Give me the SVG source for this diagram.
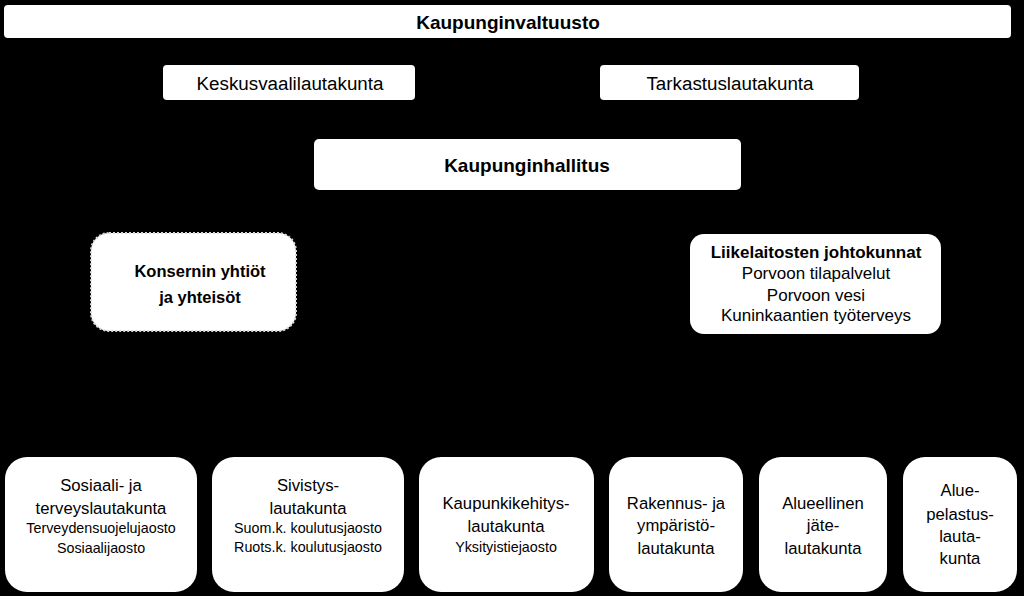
<svg xmlns="http://www.w3.org/2000/svg" width="1024" height="596" viewBox="0 0 1024 596">
<style>
.bg{fill:#000}
.box{fill:#fff}
.dash{fill:#fff;stroke:#d8d8d8;stroke-width:2;stroke-dasharray:2 2}
text{font-family:"Liberation Sans",Arial,sans-serif;fill:#000;text-anchor:middle;dominant-baseline:central}
.b{font-weight:bold}
.t19{font-size:19px}
.t18{font-size:18.8px}
.t17{font-size:17px}
.t16{font-size:16.7px}
.t13{font-size:14.3px}
.k{font-size:16.5px}
</style>
<rect class="bg" x="0" y="0" width="1024" height="596"/>
<g id="connectors"></g>
<g id="kaupunginvaltuusto">
<rect class="box" x="4" y="5" width="1007" height="33" rx="4"/>
<text class="b t19" x="508" y="22">Kaupunginvaltuusto</text>
</g>
<g id="keskusvaalilautakunta">
<rect class="box" x="163" y="65" width="252" height="35" rx="4"/>
<text class="t18" x="290" y="83">Keskusvaalilautakunta</text>
</g>
<g id="tarkastuslautakunta">
<rect class="box" x="600" y="65" width="259" height="35" rx="4"/>
<text class="t18" x="730" y="83">Tarkastuslautakunta</text>
</g>
<g id="kaupunginhallitus">
<rect class="box" x="314" y="139" width="427" height="51" rx="5"/>
<text class="b t19" x="527" y="165">Kaupunginhallitus</text>
</g>
<g id="konserni">
<rect class="dash" x="91" y="233" width="205" height="98" rx="18"/>
<text class="b k" x="200" y="271">Konsernin yhtiöt</text>
<text class="b k" x="200" y="297">ja yhteisöt</text>
</g>
<g id="liikelaitokset">
<rect class="box" x="690" y="234" width="251" height="100" rx="14"/>
<text class="b t17" x="816" y="252">Liikelaitosten johtokunnat</text>
<text class="t17" x="816" y="273">Porvoon tilapalvelut</text>
<text class="t17" x="816" y="295">Porvoon vesi</text>
<text class="t17" x="816" y="315">Kuninkaantien työterveys</text>
</g>
<g id="sosiaali">
<rect class="box" x="5" y="457" width="192" height="135" rx="22"/>
<text class="t16" x="101" y="485">Sosiaali- ja</text>
<text class="t16" x="101" y="508">terveyslautakunta</text>
<text class="t13" x="101" y="528">Terveydensuojelujaosto</text>
<text class="t13" x="101" y="548">Sosiaalijaosto</text>
</g>
<g id="sivistys">
<rect class="box" x="212" y="457" width="192" height="135" rx="22"/>
<text class="t16" x="308" y="485">Sivistys-</text>
<text class="t16" x="308" y="508">lautakunta</text>
<text class="t13" x="308" y="528">Suom.k. koulutusjaosto</text>
<text class="t13" x="308" y="547">Ruots.k. koulutusjaosto</text>
</g>
<g id="kaupunkikehitys">
<rect class="box" x="419" y="457" width="175" height="135" rx="22"/>
<text class="t16" x="506" y="503">Kaupunkikehitys-</text>
<text class="t16" x="506" y="526">lautakunta</text>
<text class="t13" x="506" y="547">Yksityistiejaosto</text>
</g>
<g id="rakennus">
<rect class="box" x="609" y="457" width="134" height="135" rx="22"/>
<text class="t16" x="676" y="503">Rakennus- ja</text>
<text class="t16" x="676" y="525">ympäristö-</text>
<text class="t16" x="676" y="548">lautakunta</text>
</g>
<g id="jate">
<rect class="box" x="759" y="457" width="128" height="135" rx="22"/>
<text class="t16" x="823" y="503">Alueellinen</text>
<text class="t16" x="823" y="525">jäte-</text>
<text class="t16" x="823" y="548">lautakunta</text>
</g>
<g id="pelastus">
<rect class="box" x="903" y="457" width="114" height="135" rx="22"/>
<text class="t16" x="960" y="490">Alue-</text>
<text class="t16" x="960" y="514">pelastus-</text>
<text class="t16" x="960" y="536">lauta-</text>
<text class="t16" x="960" y="558">kunta</text>
</g>
</svg>
